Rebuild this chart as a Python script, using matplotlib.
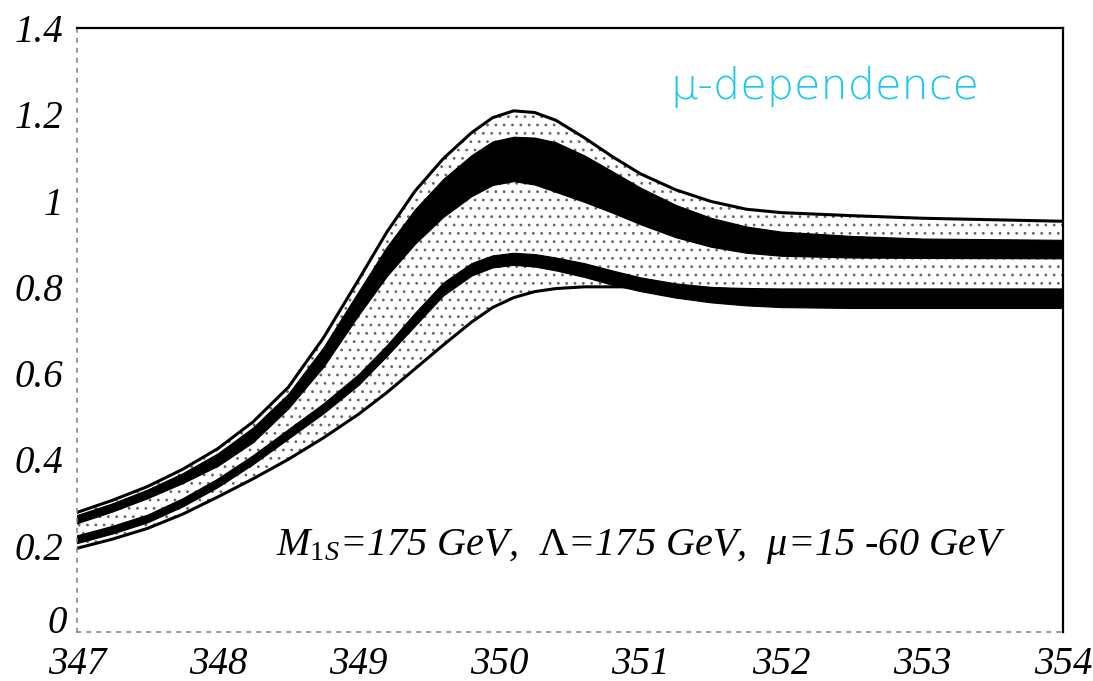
import numpy as np
import matplotlib
matplotlib.use("Agg")
import matplotlib.pyplot as plt

# sqrt(s) grid in GeV
energy = [347.0, 347.25, 347.5, 347.75, 348.0, 348.25, 348.5, 348.75, 349.0, 349.2,
          349.4, 349.6, 349.8, 349.95, 350.1, 350.25, 350.4, 350.6, 350.8, 351.0,
          351.25, 351.5, 351.75, 352.0, 352.5, 353.0, 354.0]

# outer envelope of the scan
upper_env = [0.277, 0.305, 0.337, 0.377, 0.425, 0.487, 0.567, 0.682, 0.817, 0.927,
             1.022, 1.097, 1.157, 1.192, 1.208, 1.204, 1.186, 1.146, 1.102, 1.062,
             1.025, 0.998, 0.980, 0.972, 0.965, 0.959, 0.952]
lower_env = [0.194, 0.215, 0.240, 0.273, 0.313, 0.355, 0.400, 0.450, 0.505, 0.555,
             0.610, 0.665, 0.718, 0.752, 0.775, 0.789, 0.796, 0.800, 0.800, 0.800,
             0.798, 0.796, 0.794, 0.793, 0.793, 0.793, 0.793]

# upper black band
band1_hi = [0.271, 0.298, 0.330, 0.368, 0.414, 0.474, 0.552, 0.660, 0.790, 0.893,
            0.980, 1.050, 1.105, 1.137, 1.148, 1.146, 1.135, 1.105, 1.068, 1.030,
            0.990, 0.960, 0.940, 0.928, 0.918, 0.912, 0.909]
band1_lo = [0.252, 0.279, 0.310, 0.345, 0.385, 0.440, 0.518, 0.615, 0.735, 0.825,
            0.900, 0.962, 1.010, 1.036, 1.045, 1.037, 1.020, 0.997, 0.972, 0.945,
            0.915, 0.893, 0.879, 0.872, 0.868, 0.867, 0.866]

# lower black band
band2_hi = [0.224, 0.246, 0.272, 0.310, 0.356, 0.410, 0.470, 0.530, 0.598, 0.665,
            0.740, 0.810, 0.855, 0.873, 0.879, 0.876, 0.868, 0.855, 0.838, 0.822,
            0.808, 0.800, 0.795, 0.794, 0.793, 0.793, 0.793]
band2_lo = [0.206, 0.228, 0.254, 0.291, 0.336, 0.389, 0.448, 0.507, 0.573, 0.640,
            0.710, 0.780, 0.826, 0.845, 0.851, 0.847, 0.838, 0.823, 0.805, 0.790,
            0.775, 0.764, 0.757, 0.753, 0.751, 0.751, 0.751]

xticks = [347, 348, 349, 350, 351, 352, 353, 354]
yticks = [0, 0.2, 0.4, 0.6, 0.8, 1.0, 1.2, 1.4]
ytick_labels = ["", "0.2", "0.4", "0.6", "0.8", "1", "1.2", "1.4"]

serif = ["Liberation Serif", "DejaVu Serif"]
plt.rcParams["mathtext.fontset"] = "custom"
plt.rcParams["mathtext.it"] = "Liberation Serif:italic"
plt.rcParams["mathtext.rm"] = "Liberation Serif"
plt.rcParams["hatch.linewidth"] = 0.8

fig = plt.figure(figsize=(10.93, 6.81), dpi=100)
ax = fig.add_axes([0.0704, 0.072, 0.9022, 0.8869])

# stippled region between the envelopes
ax.fill_between(energy, lower_env, upper_env, facecolor="none",
                edgecolor="#666666", hatch="..", linewidth=0)
ax.fill_between(energy, band1_lo, band1_hi, color="black", linewidth=0.8)
ax.fill_between(energy, band2_lo, band2_hi, color="black", linewidth=0.8)
ax.plot(energy, upper_env, color="black", lw=2.2)
ax.plot(energy, lower_env, color="black", lw=2.2)

ax.set_xlim(347, 354)
ax.set_ylim(0, 1.4)
ax.set_xticks(xticks)
ax.set_xticklabels([str(t) for t in xticks], family=serif, style="italic", fontsize=28)
ax.set_yticks(yticks)
ax.set_yticklabels(ytick_labels, family=serif, style="italic", fontsize=28)
ax.tick_params(axis="x", length=0, pad=10)
ax.tick_params(axis="y", length=0, pad=10)
# the zero label sits a little above the axis so it clears "347"
ax.text(-0.0101, 0.014, "0", transform=ax.transAxes, ha="right", va="center",
        family=serif, style="italic", fontsize=28)

for side in ["top", "right"]:
    ax.spines[side].set_linewidth(1.6)
for side in ["left", "bottom"]:
    ax.spines[side].set_linestyle((0, (2, 4)))
    ax.spines[side].set_color("#888888")
    ax.spines[side].set_linewidth(1.2)

ax.text(0.572, 0.142, r"$M_{1S}$=175 GeV,  $\Lambda$=175 GeV,  $\mu$=15 -60 GeV",
        transform=ax.transAxes, ha="center", va="center", family=serif,
        style="italic", fontsize=29)
ax.text(0.602, 0.902, "\u03bc-dependence", transform=ax.transAxes,
        ha="left", va="center", color="#18c8ee", fontsize=31, family="DejaVu Sans",
        fontweight="light")

fig.savefig("out.png", dpi=100)
